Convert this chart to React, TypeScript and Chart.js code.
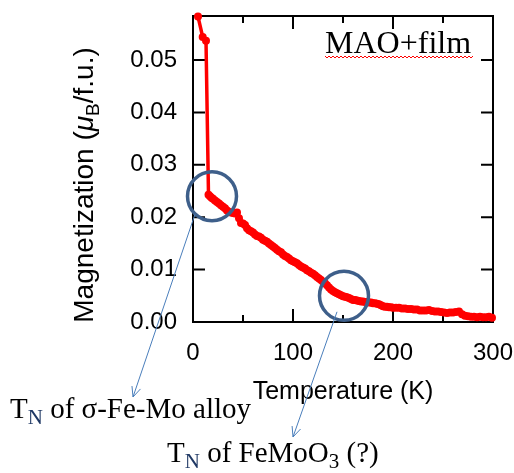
import { useEffect, useRef } from "react";
import { Chart, registerables } from "chart.js";

Chart.register(...registerables);

// ---- data ----
const temperatureK = [
  5, 9.7, 13, 15.5, 17, 18.5, 20, 22, 24, 26,
  28, 30, 32, 34, 36, 38, 40, 42, 44, 46,
  48, 50, 52, 54, 56, 58, 60, 62, 64, 66,
  68, 70, 72, 74, 76, 78, 80, 82, 84, 86,
  88, 90, 92, 94, 96, 98, 100, 102, 104, 106,
  108, 110, 112, 114, 116, 118, 120, 122, 124, 126,
  128, 130, 132, 134, 136, 138, 140, 142, 144, 146,
  148, 150, 152, 154, 156, 158, 160, 162, 164, 166,
  168, 170, 172, 174, 176, 178, 180, 182, 184, 186,
  188, 190, 192, 194, 196, 198, 200, 203, 206, 209,
  212, 215, 218, 221, 224, 227, 230, 233, 236, 239,
  242, 245, 248, 251, 254, 257, 260, 263, 266, 269,
  272, 275, 278, 281, 284, 287, 290, 293, 296, 299,
];
const magnetization = [
  0.0583, 0.0544, 0.0537, 0.0243, 0.0240, 0.0237, 0.0235, 0.0232, 0.0229, 0.0226,
  0.0223, 0.0220, 0.0217, 0.0213, 0.0210, 0.0209, 0.0208, 0.0207, 0.0209, 0.0198,
  0.0189, 0.0188, 0.0185, 0.0179, 0.0175, 0.0173, 0.0171, 0.0167, 0.0164, 0.0163,
  0.0161, 0.0157, 0.0155, 0.0153, 0.0150, 0.0147, 0.0144, 0.0141, 0.0138, 0.0135,
  0.0133, 0.0129, 0.0126, 0.0124, 0.0121, 0.0118, 0.0116, 0.0114, 0.0112, 0.0109,
  0.0106, 0.0104, 0.0102, 0.0099, 0.0097, 0.0094, 0.0092, 0.0089, 0.0086, 0.0083,
  0.0080, 0.0077, 0.0074, 0.0070, 0.0066, 0.0062, 0.0059, 0.0057, 0.0055, 0.0053,
  0.0051, 0.0049, 0.0048, 0.0047, 0.0046, 0.0044, 0.0042, 0.0042, 0.0041, 0.0040,
  0.0039, 0.0039, 0.0038, 0.0038, 0.0037, 0.0037, 0.0036, 0.0036, 0.0035, 0.0034,
  0.0032, 0.0030, 0.0029, 0.0029, 0.0028, 0.0028, 0.0027, 0.0027, 0.0027, 0.0026,
  0.0026, 0.0025, 0.0025, 0.0024, 0.0024, 0.0022, 0.0022, 0.0022, 0.0023, 0.0021,
  0.0020, 0.0020, 0.0019, 0.0018, 0.0017, 0.0018, 0.0018, 0.0019, 0.0020, 0.0015,
  0.0012, 0.0011, 0.0010, 0.0010, 0.0009, 0.0010, 0.0009, 0.0009, 0.0010, 0.0008,
];

const xMajorTicks = [100, 200];
const xMinorTicks = [50, 150, 250];
const yTicks = [0.01, 0.02, 0.03, 0.04, 0.05];

const xTitle = "Temperature (K)";
const sampleLabel = "MAO+film";

// circled features: [temperature, magnetization]
const circle1 = [19, 0.024];
const circle2 = [151, 0.005];

const SANS = '"Liberation Sans", Arial, Helvetica, sans-serif';
const SERIF = '"Liberation Serif", "Times New Roman", serif';

type Seg = { t: string; font: string; dy: number; color?: string };

function drawSegs(ctx: CanvasRenderingContext2D, segs: Seg[], x: number, y: number) {
  let cx = x;
  for (const s of segs) {
    ctx.font = s.font;
    ctx.fillStyle = s.color || "#000";
    ctx.fillText(s.t, cx, y + s.dy);
    cx += ctx.measureText(s.t).width;
  }
}
function segsWidth(ctx: CanvasRenderingContext2D, segs: Seg[]) {
  let w = 0;
  for (const s of segs) {
    ctx.font = s.font;
    w += ctx.measureText(s.t).width;
  }
  return w;
}

function arrow(ctx: CanvasRenderingContext2D, x0: number, y0: number, x1: number, y1: number) {
  ctx.beginPath();
  ctx.moveTo(x0, y0);
  ctx.lineTo(x1, y1);
  const ang = Math.atan2(y1 - y0, x1 - x0);
  const L = 11;
  const spread = 0.42;
  ctx.moveTo(x1 - L * Math.cos(ang - spread), y1 - L * Math.sin(ang - spread));
  ctx.lineTo(x1, y1);
  ctx.lineTo(x1 - L * Math.cos(ang + spread), y1 - L * Math.sin(ang + spread));
  ctx.stroke();
}

const decorPlugin = {
  id: "decor",
  beforeDatasetsDraw(chart: any) {
    const { ctx, chartArea: a, scales } = chart;
    ctx.save();
    ctx.strokeStyle = "#000";
    ctx.lineWidth = 2;
    ctx.strokeRect(a.left, a.top, a.right - a.left, a.bottom - a.top);
    ctx.beginPath();
    for (const v of [...xMinorTicks, ...xMajorTicks]) {
      const x = scales.x.getPixelForValue(v);
      const len = xMajorTicks.includes(v) ? 13 : 7;
      ctx.moveTo(x, a.bottom);
      ctx.lineTo(x, a.bottom - len);
      ctx.moveTo(x, a.top);
      ctx.lineTo(x, a.top + len);
    }
    for (const v of yTicks) {
      const y = scales.y.getPixelForValue(v);
      ctx.moveTo(a.left, y);
      ctx.lineTo(a.left + 12, y);
      ctx.moveTo(a.right, y);
      ctx.lineTo(a.right - 12, y);
    }
    ctx.stroke();
    ctx.restore();
  },
  afterDraw(chart: any) {
    const { ctx, scales } = chart;
    ctx.save();

    // y axis title (rotated, with subscript)
    const ySegs: Seg[] = [
      { t: "Magnetization (", font: `28px ${SANS}`, dy: 0 },
      { t: "\u03bc", font: `italic 28px ${SANS}`, dy: 0 },
      { t: "B", font: `19px ${SANS}`, dy: 6 },
      { t: "/f.u.)", font: `28px ${SANS}`, dy: 0 },
    ];
    const yw = segsWidth(ctx, ySegs);
    ctx.save();
    ctx.translate(93, 185);
    ctx.rotate(-Math.PI / 2);
    ctx.textBaseline = "alphabetic";
    ctx.textAlign = "left";
    drawSegs(ctx, ySegs, -yw / 2, 0);
    ctx.restore();

    // sample label
    ctx.textAlign = "left";
    ctx.textBaseline = "alphabetic";
    ctx.font = `32px ${SERIF}`;
    ctx.fillStyle = "#000";
    ctx.fillText(sampleLabel, 325, 53);
    const lw = ctx.measureText(sampleLabel).width;
    // spell-check squiggle
    ctx.strokeStyle = "#ff0000";
    ctx.lineWidth = 1;
    ctx.beginPath();
    for (let x = 325, i = 0; x <= 325 + lw + 2; x += 2, i++) {
      const y = i % 2 === 0 ? 56 : 58;
      if (i === 0) ctx.moveTo(x, y);
      else ctx.lineTo(x, y);
    }
    ctx.stroke();

    // circles
    const c1x = scales.x.getPixelForValue(circle1[0]);
    const c1y = scales.y.getPixelForValue(circle1[1]);
    const c2x = scales.x.getPixelForValue(circle2[0]);
    const c2y = scales.y.getPixelForValue(circle2[1]);
    ctx.strokeStyle = "#3e5f8a";
    ctx.lineWidth = 3.5;
    ctx.beginPath();
    ctx.arc(c1x, c1y, 24.5, 0, Math.PI * 2);
    ctx.stroke();
    ctx.beginPath();
    ctx.arc(c2x, c2y, 24.5, 0, Math.PI * 2);
    ctx.stroke();

    // arrows
    ctx.strokeStyle = "#4a7ebb";
    ctx.lineWidth = 1;
    arrow(ctx, c1x - 17, c1y + 18, 133, 397);
    arrow(ctx, c2x - 7, c2y + 16, 293, 437);

    // annotation texts
    const t1: Seg[] = [
      { t: "T", font: `29px ${SERIF}`, dy: 0 },
      { t: "N", font: `21px ${SERIF}`, dy: 6, color: "#1f3864" },
      { t: " of \u03c3-Fe-Mo alloy", font: `29px ${SERIF}`, dy: 0 },
    ];
    drawSegs(ctx, t1, 10, 418);
    const t2: Seg[] = [
      { t: "T", font: `29px ${SERIF}`, dy: 0 },
      { t: "N", font: `21px ${SERIF}`, dy: 6, color: "#1f3864" },
      { t: " of FeMoO", font: `29px ${SERIF}`, dy: 0 },
      { t: "3", font: `21px ${SERIF}`, dy: 6 },
      { t: " (?)", font: `29px ${SERIF}`, dy: 0 },
    ];
    drawSegs(ctx, t2, 167, 462);

    ctx.restore();
  },
};

export default function App() {
  const ref = useRef<HTMLCanvasElement>(null);
  useEffect(() => {
    const points = temperatureK.map((t, i) => ({ x: t, y: magnetization[i] }));
    const chart = new Chart(ref.current as HTMLCanvasElement, {
      type: "line",
      data: {
        datasets: [
          {
            data: points,
            borderColor: "#ff0000",
            backgroundColor: "#ff0000",
            borderWidth: 3.5,
            pointRadius: 4,
            pointBorderWidth: 0,
            pointBackgroundColor: "#ff0000",
            tension: 0,
            clip: false as any,
          },
        ],
      },
      options: {
        animation: false,
        responsive: false,
        devicePixelRatio: 1,
        layout: { padding: { left: 0, right: 21, top: 16, bottom: 0 } },
        plugins: { legend: { display: false }, tooltip: { enabled: false } },
        scales: {
          x: {
            type: "linear",
            min: 0,
            max: 300,
            grid: { display: false },
            border: { display: false },
            ticks: {
              stepSize: 100,
              padding: 9,
              color: "#000",
              font: { family: SANS, size: 24 },
              maxRotation: 0,
            },
            title: {
              display: true,
              text: xTitle,
              color: "#000",
              font: { family: SANS, size: 25 },
              padding: { top: 0, bottom: 66 },
            },
            afterFit: (s: any) => {
              s.height = 151;
              s.paddingLeft = 0;
              s.paddingRight = 0;
            },
          },
          y: {
            type: "linear",
            min: 0,
            max: 0.0584,
            grid: { display: false },
            border: { display: false },
            ticks: {
              stepSize: 0.01,
              padding: 8,
              color: "#000",
              font: { family: SANS, size: 24 },
              callback: (v: any) => Number(v).toFixed(2),
            },
            afterBuildTicks: (s: any) => {
              s.ticks = s.ticks.filter((t: any) => t.value <= 0.0501);
            },
            afterFit: (s: any) => {
              s.width = 193;
              s.paddingTop = 0;
              s.paddingBottom = 0;
            },
          },
        },
      },
      plugins: [decorPlugin],
    });
    return () => chart.destroy();
  }, []);
  return (
    <div style={{ position: "absolute", left: 0, top: 0, width: 514, height: 473, background: "#fff" }}>
      <canvas ref={ref} width={514} height={473} style={{ display: "block" }} />
    </div>
  );
}
